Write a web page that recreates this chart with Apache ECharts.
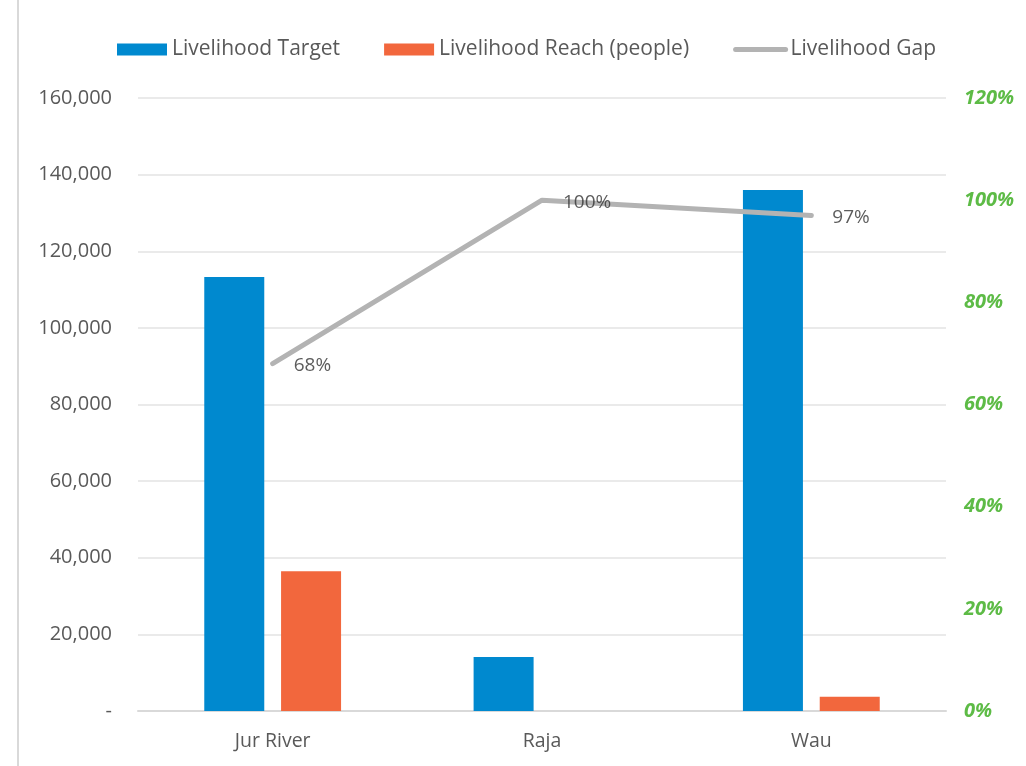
<!DOCTYPE html>
<html><head><meta charset="utf-8">
<script src="https://cdn.jsdelivr.net/npm/echarts@6/dist/echarts.min.js"></script>
<style>html,body{margin:0;padding:0;background:#fff}#c{width:1026px;height:766px}</style>
</head><body><div id="c"></div>
<script>
const categories = ['Jur River', 'Raja', 'Wau'];
const targetValues = [113300, 14100, 136000];
const reachValues = [36500, 0, 3700];
const gapValues = [68, 100, 97];
const seriesNames = ['Livelihood Target', 'Livelihood Reach (people)', 'Livelihood Gap'];

const font = 'Open Sans';
const chart = echarts.init(document.getElementById('c'));
chart.setOption({
  animation: false,
  textStyle: { fontFamily: font },
  graphic: [{ type: 'line', shape: { x1: 18, y1: 0, x2: 18, y2: 766 }, style: { stroke: '#D9D9D9', lineWidth: 2 } }],
  legend: {
    top: 34, left: 112, itemWidth: 50, itemHeight: 12, itemGap: 44,
    textStyle: { fontSize: 21, color: '#595959', fontFamily: font },
    data: [
      { name: seriesNames[0], icon: 'rect' },
      { name: seriesNames[1], icon: 'rect' },
      { name: seriesNames[2], lineStyle: { width: 5, cap: 'round' }, itemStyle: { color: 'rgba(0,0,0,0)', borderWidth: 0 } }
    ]
  },
  grid: { left: 138, right: 80, top: 98, bottom: 55 },
  xAxis: {
    type: 'category', data: categories,
    axisLine: { lineStyle: { color: '#D9D9D9', width: 2 } },
    axisTick: { show: false },
    axisLabel: { fontSize: 19.5, color: '#595959', margin: 20 }
  },
  yAxis: [{
    type: 'value', min: 0, max: 160000, interval: 20000,
    axisLabel: { fontSize: 20, color: '#595959', margin: 26,
      formatter: v => v === 0 ? '-' : v.toLocaleString('en-US') },
    splitLine: { lineStyle: { color: '#E3E3E3', width: 1.5 } },
    axisLine: { show: false }, axisTick: { show: false }
  }, {
    type: 'value', min: 0, max: 120, interval: 20,
    axisLabel: { fontSize: 20, color: '#5DBB46', fontWeight: 'bold', fontStyle: 'italic', margin: 18,
      formatter: v => v + '%' },
    splitLine: { show: false }, axisLine: { show: false }, axisTick: { show: false }
  }],
  series: [{
    name: seriesNames[0], type: 'bar', data: targetValues, barWidth: 60, barGap: '28%',
    itemStyle: { color: '#0089CF' }
  }, {
    name: seriesNames[1], type: 'bar', data: reachValues, barWidth: 60,
    itemStyle: { color: '#F2673D' }
  }, {
    name: seriesNames[2], type: 'line', yAxisIndex: 1, data: gapValues,
    symbol: 'none',
    lineStyle: { color: '#B3B3B3', width: 5, cap: 'round', join: 'round' },
    itemStyle: { color: '#B3B3B3' }
  }, {
    name: 'gapLabels', type: 'scatter', yAxisIndex: 1, data: gapValues,
    symbolSize: 2, itemStyle: { color: 'rgba(0,0,0,0)' }, silent: true, z: 5,
    label: { show: true, position: 'right', distance: 20, offset: [0, 2], fontSize: 19, color: '#333333',
      formatter: p => p.value + '%' }
  }]
});
</script></body></html>
